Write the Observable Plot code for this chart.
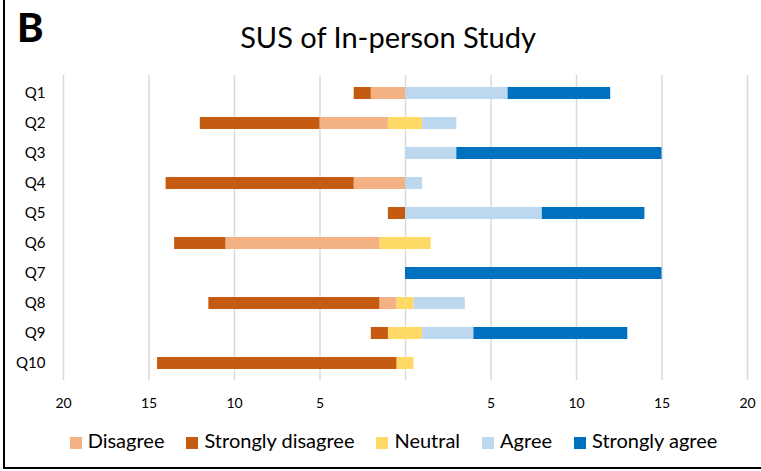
<!DOCTYPE html>
<html>
<head>
<meta charset="utf-8">
<script src="https://cdn.jsdelivr.net/npm/d3@7"></script>
<script src="https://cdn.jsdelivr.net/npm/@observablehq/plot@0.6"></script>
<style>
  html, body { margin: 0; padding: 0; background: #fff; }
  #frame { position: relative; width: 761px; height: 471px; background: #fff; overflow: hidden; font-family: Lato, "Open Sans", sans-serif; color: #000; }
  #vline { position: absolute; left: 3px; top: 0; width: 2px; height: 469px; background: #000; }
  #hline { position: absolute; left: 3px; top: 467px; width: 758px; height: 2px; background: #000; }
  #letter { position: absolute; left: 17px; top: 3px; font-size: 40px; font-weight: 900; }
  #title { position: absolute; left: 0; width: 776px; top: 19px; text-align: center; font-size: 29px; }
  #chart { position: absolute; left: 0; top: 60px; }
  #legend { position: absolute; left: 0; width: 787px; top: 428px; text-align: center; font-size: 20px; white-space: nowrap; }
  .item { display: inline-block; margin: 0 11px; }
  .sw { display: inline-block; width: 12px; height: 12px; margin-right: 6px; vertical-align: -1px; }
</style>
</head>
<body>
<div id="frame">
  <div id="vline"></div>
  <div id="hline"></div>
  <div id="letter">B</div>
  <div id="title">SUS of In-person Study</div>
  <div id="chart"></div>
  <div id="legend"></div>
</div>
<script>
const questions = ["Q1","Q2","Q3","Q4","Q5","Q6","Q7","Q8","Q9","Q10"];
const stronglyDisagree = [1, 7, 0, 11, 1, 3, 0, 10, 1, 14];
const disagree         = [2, 4, 0, 3, 0, 9, 0, 1, 0, 0];
const neutral          = [0, 2, 0, 0, 0, 3, 0, 1, 2, 1];
const agree            = [6, 2, 3, 1, 8, 0, 0, 3, 3, 0];
const stronglyAgree    = [6, 0, 12, 0, 6, 0, 15, 0, 9, 0];
const legendOrder = ["Disagree","Strongly disagree","Neutral","Agree","Strongly agree"];
const colors      = ["#F4B183","#C55A11","#FFD966","#BDD7EE","#0070C0"];
const tickValues  = [-20,-15,-10,-5,0,5,10,15,20];
const tickLabels  = ["20","15","10","5","","5","10","15","20"];

// build diverging segments
const segs = [];
questions.forEach((q, i) => {
  const nh = neutral[i] / 2;
  if (neutral[i] > 0) segs.push({q, cat: "Neutral", x1: -nh, x2: nh});
  let left = -nh;
  if (disagree[i] > 0) { segs.push({q, cat: "Disagree", x1: left - disagree[i], x2: left}); }
  left -= disagree[i];
  if (stronglyDisagree[i] > 0) { segs.push({q, cat: "Strongly disagree", x1: left - stronglyDisagree[i], x2: left}); }
  let right = nh;
  if (agree[i] > 0) { segs.push({q, cat: "Agree", x1: right, x2: right + agree[i]}); }
  right += agree[i];
  if (stronglyAgree[i] > 0) { segs.push({q, cat: "Strongly agree", x1: right, x2: right + stronglyAgree[i]}); }
});

const chart = Plot.plot({
  width: 761,
  height: 360,
  marginLeft: 63,
  marginRight: 14,
  marginTop: 15,
  marginBottom: 40,
  style: {fontFamily: "Lato, 'Open Sans', sans-serif", background: "transparent", color: "#000"},
  x: {domain: [-20, 20]},
  y: {domain: questions, paddingInner: 0.6, paddingOuter: 0.29},
  color: {domain: legendOrder, range: colors},
  marks: [
    Plot.gridX(tickValues, {stroke: "#d9d9d9", strokeOpacity: 1, strokeWidth: 1.5}),
    Plot.barX(segs, {x1: "x1", x2: "x2", y: "q", fill: "cat", inset: 0}),
    Plot.axisX(tickValues, {tickSize: 0, tickPadding: 18, tickFormat: (d, i) => tickLabels[i], fontSize: 14, label: null, fill: "#000"}),
    Plot.axisY({tickSize: 0, tickPadding: 18, fontSize: 15, label: null, fill: "#000"})
  ]
});
document.getElementById("chart").appendChild(chart);

const lg = document.getElementById("legend");
legendOrder.forEach((name, i) => {
  const it = document.createElement("span");
  it.className = "item";
  const sw = document.createElement("span");
  sw.className = "sw";
  sw.style.background = colors[i];
  it.appendChild(sw);
  it.appendChild(document.createTextNode(name));
  lg.appendChild(it);
});
</script>
</body>
</html>
